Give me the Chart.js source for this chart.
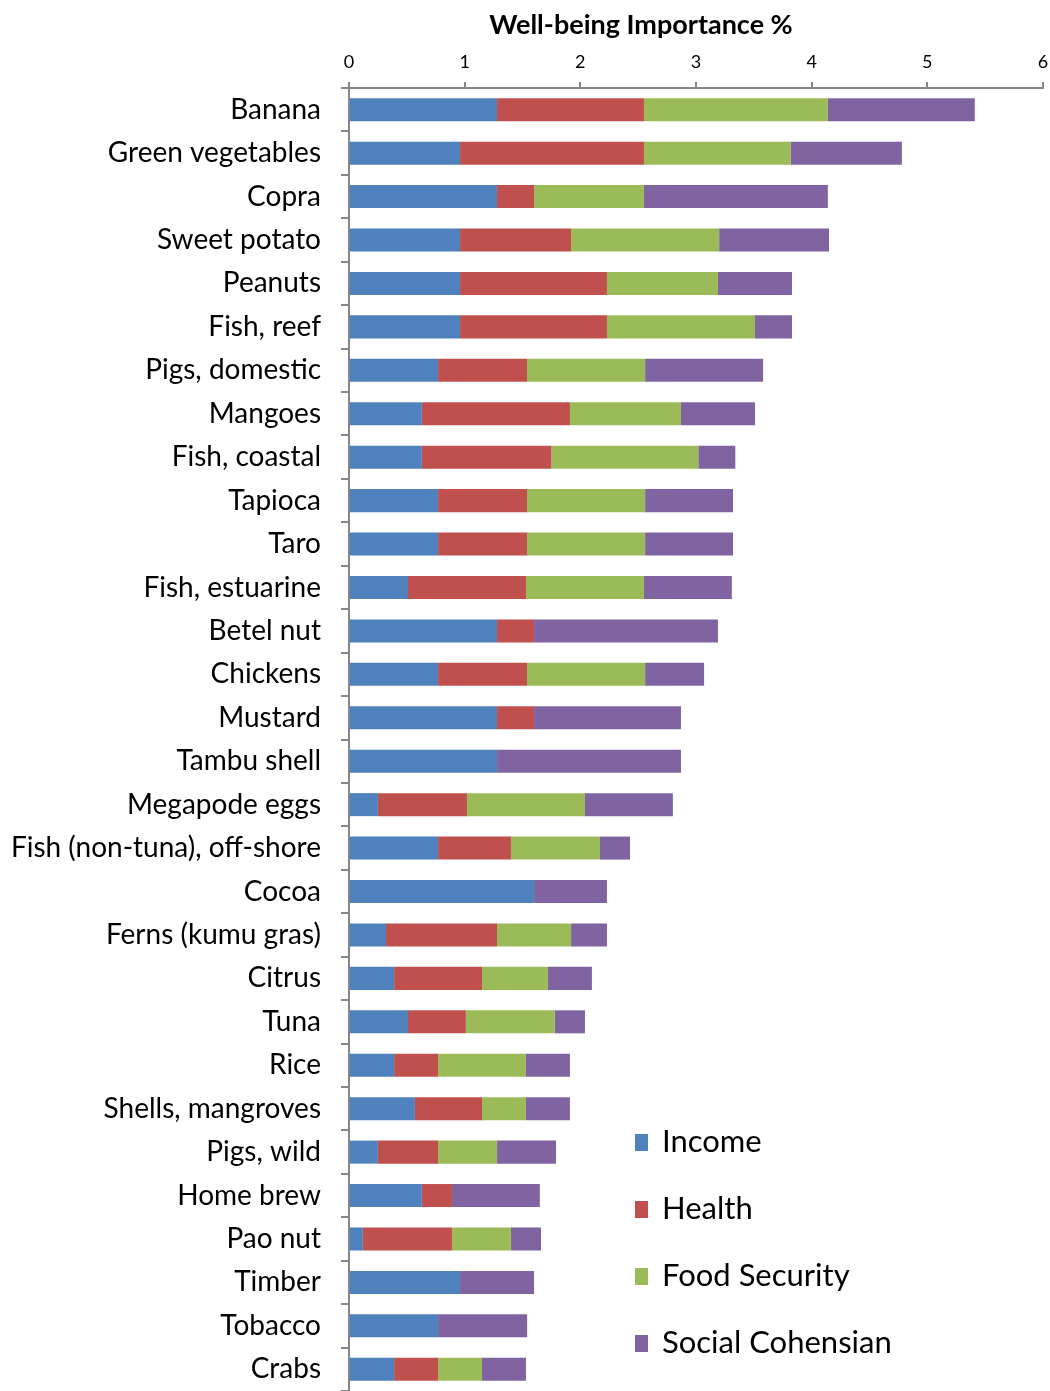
<!DOCTYPE html>
<html>
<head>
<meta charset="utf-8">
<title>Well-being Importance</title>
<script src="https://cdn.jsdelivr.net/npm/chart.js@4.4.1/dist/chart.umd.min.js"></script>
<style>
  html, body { margin: 0; padding: 0; background: #fff; }
  #wrap { width: 1050px; height: 1391px; }
</style>
</head>
<body>
<div id="wrap"><canvas id="wellbeingChart" width="1050" height="1391"></canvas></div>
<script>
// --- DATA ---
const categories = [
  'Banana', 'Green vegetables', 'Copra', 'Sweet potato', 'Peanuts', 'Fish, reef',
  'Pigs, domestic', 'Mangoes', 'Fish, coastal', 'Tapioca', 'Taro', 'Fish, estuarine',
  'Betel nut', 'Chickens', 'Mustard', 'Tambu shell', 'Megapode eggs',
  'Fish (non-tuna), off-shore', 'Cocoa', 'Ferns (kumu gras)', 'Citrus', 'Tuna', 'Rice',
  'Shells, mangroves', 'Pigs, wild', 'Home brew', 'Pao nut', 'Timber', 'Tobacco', 'Crabs'
];
const income = [
  1.28, 0.96, 1.28, 0.96, 0.96, 0.96,
  0.77, 0.63, 0.63, 0.77, 0.77, 0.51,
  1.28, 0.77, 1.28, 1.28, 0.25,
  0.77, 1.60, 0.32, 0.39, 0.51, 0.39,
  0.57, 0.25, 0.63, 0.12, 0.96, 0.77, 0.39
];
const health = [
  1.27, 1.59, 0.32, 0.96, 1.27, 1.27,
  0.77, 1.28, 1.12, 0.77, 0.77, 1.02,
  0.32, 0.77, 0.32, 0, 0.77,
  0.63, 0, 0.96, 0.76, 0.50, 0.38,
  0.58, 0.52, 0.26, 0.77, 0, 0, 0.38
];
const foodSecurity = [
  1.59, 1.27, 0.95, 1.28, 0.96, 1.28,
  1.02, 0.96, 1.27, 1.02, 1.02, 1.02,
  0, 1.02, 0, 0, 1.02,
  0.77, 0, 0.64, 0.57, 0.77, 0.76,
  0.38, 0.51, 0, 0.51, 0, 0, 0.38
];
const socialCohesion = [
  1.27, 0.96, 1.59, 0.95, 0.64, 0.32,
  1.02, 0.64, 0.32, 0.76, 0.76, 0.76,
  1.59, 0.51, 1.27, 1.59, 0.76,
  0.26, 0.63, 0.31, 0.38, 0.26, 0.38,
  0.38, 0.51, 0.76, 0.26, 0.64, 0.77, 0.38
];
const seriesNames = ['Income', 'Health', 'Food Security', 'Social Cohensian'];
const seriesColors = ['#4F81BD', '#C0504D', '#9BBB59', '#8064A2'];
const axisMax = 6;
const axisTitle = 'Well-being Importance %';

const FONT = 'Lato, "Open Sans", "DejaVu Sans", sans-serif';
const AXIS_GREY = '#878787';

// --- AXIS TITLE: sits above the tick labels, a little left of the plot centre ---
const topTitle = {
  id: 'topTitle',
  afterDraw(chart) {
    const ctx = chart.ctx;
    ctx.save();
    ctx.font = 'bold 27px ' + FONT;
    ctx.fillStyle = '#000';
    ctx.textAlign = 'center';
    ctx.textBaseline = 'middle';
    ctx.fillText(axisTitle, 641, 25);
    ctx.restore();
  }
};

// --- LEGEND: drawn inside the plot, lower right ---
const insideLegend = {
  id: 'insideLegend',
  afterDraw(chart) {
    const ctx = chart.ctx;
    const area = chart.chartArea;
    const x0 = area.left + 286;
    let y = 1142;
    ctx.save();
    ctx.font = '31px ' + FONT;
    ctx.textBaseline = 'middle';
    ctx.textAlign = 'left';
    chart.data.datasets.forEach(ds => {
      ctx.fillStyle = ds.backgroundColor;
      ctx.fillRect(x0, y - 8, 13, 17);
      ctx.fillStyle = '#000';
      ctx.fillText(ds.label, x0 + 27, y);
      y += 67;
    });
    ctx.restore();
  }
};

const seriesData = [income, health, foodSecurity, socialCohesion];

const chart = new Chart(document.getElementById('wellbeingChart'), {
  type: 'bar',
  data: {
    labels: categories,
    datasets: seriesNames.map((name, i) => ({
      label: name,
      data: seriesData[i],
      backgroundColor: seriesColors[i],
      borderWidth: 0,
      categoryPercentage: 1,
      barPercentage: 0.53
    }))
  },
  options: {
    indexAxis: 'y',
    responsive: false,
    animation: false,
    layout: { padding: { top: 0, right: 7, bottom: 0, left: 0 } },
    plugins: {
      legend: { display: false },
      tooltip: { enabled: false }
    },
    scales: {
      x: {
        position: 'top',
        stacked: true,
        min: 0,
        max: axisMax,
        afterFit(scale) {
          scale.height = 88;
          scale.paddingLeft = 0;
          scale.paddingRight = 0;
        },
        ticks: {
          stepSize: 1,
          color: '#000',
          padding: 9,
          font: { family: FONT, size: 18 }
        },
        grid: {
          drawOnChartArea: false,
          color: AXIS_GREY,
          tickLength: 6,
          lineWidth: 2
        },
        border: { color: AXIS_GREY, width: 2 }
      },
      y: {
        stacked: true,
        afterFit(scale) {
          scale.width = 349;
          scale.paddingTop = 0;
          scale.paddingBottom = 0;
        },
        ticks: {
          color: '#000',
          padding: 20,
          autoSkip: false,
          font: { family: FONT, size: 28 }
        },
        grid: {
          offset: true,
          drawOnChartArea: false,
          color: AXIS_GREY,
          tickLength: 8,
          lineWidth: 2
        },
        border: { color: AXIS_GREY, width: 2 }
      }
    }
  },
  plugins: [topTitle, insideLegend]
});
</script>
</body>
</html>
